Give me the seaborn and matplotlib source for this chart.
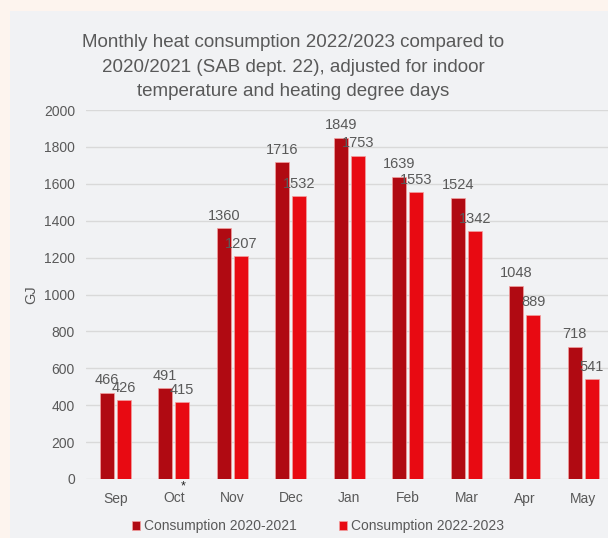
import matplotlib
matplotlib.use("Agg")
import matplotlib.pyplot as plt
from matplotlib.patches import Rectangle
import seaborn as sns
import pandas as pd

months = ["Sep", "Oct", "Nov", "Dec", "Jan", "Feb", "Mar", "Apr", "May"]
series_names = ["Consumption 2020-2021", "Consumption 2022-2023"]
cons_2020_2021 = [466, 491, 1360, 1716, 1849, 1639, 1524, 1048, 718]
cons_2022_2023 = [426, 415, 1207, 1532, 1753, 1553, 1342, 889, 541]
y_ticks = [0, 200, 400, 600, 800, 1000, 1200, 1400, 1600, 1800, 2000]
title = ("Monthly heat consumption 2022/2023 compared to\n"
         "2020/2021 (SAB dept. 22), adjusted for indoor\n"
         "temperature and heating degree days")

df = pd.DataFrame({
    "Month": months * 2,
    "Series": [series_names[0]] * len(months) + [series_names[1]] * len(months),
    "GJ": cons_2020_2021 + cons_2022_2023,
})

sns.set_theme(style="white")
plt.rcParams["font.family"] = ["Liberation Sans", "DejaVu Sans"]
TXT = "#595959"

fig = plt.figure(figsize=(6.08, 5.38), dpi=100)
fig.patch.set_facecolor("#fdf4ee")
fig.patches.append(Rectangle((10 / 608, 0), 1 - 10 / 608, (538 - 11) / 538,
                             transform=fig.transFigure, facecolor="#f1f2f4",
                             edgecolor="none", zorder=-10))

ax = fig.add_axes([86 / 608, (538 - 479) / 538, (608 - 86) / 608, 369 / 538])
ax.set_zorder(5)
ax.set_facecolor("none")

palette = {series_names[0]: "#b00a12", series_names[1]: "#e80a12"}
sns.barplot(data=df, x="Month", y="GJ", hue="Series", order=months,
            hue_order=series_names, palette=palette, width=0.58, gap=0.17,
            edgecolor="#f3a0a0", linewidth=0.5, saturation=1, ax=ax,
            errorbar=None, zorder=3)

for cont in ax.containers:
    ax.bar_label(cont, padding=4, fontsize=10.5, color=TXT)

ax.set_ylim(0, 2000)
ax.set_xlim(-0.5, 8.42)
ax.set_yticks(y_ticks)
ax.set_yticklabels([str(v) for v in y_ticks])
ax.yaxis.grid(True, color="#d9d9d9", linewidth=1, zorder=0)
ax.set_axisbelow(True)
for s in ax.spines.values():
    s.set_visible(False)
ax.tick_params(axis="both", length=0, labelsize=10, labelcolor=TXT)
ax.tick_params(axis="y", pad=8)
ax.tick_params(axis="x", pad=9)
ax.set_xlabel("")
ax.set_ylabel("GJ", fontsize=10.5, color=TXT, labelpad=4)

# asterisk under October 2022-2023 bar
ax.annotate("*", xy=(1 + 0.16, 0), xytext=(0, -1), textcoords="offset points",
            ha="center", va="top", fontsize=9, color="#222222")

fig.text(293 / 608, 1 - 67 / 538, title, ha="center", va="center",
         fontsize=13.5, color=TXT, linespacing=1.55)

handles, labels = ax.get_legend_handles_labels()
ax.get_legend().remove()
fig.legend(handles, labels, loc="center", bbox_to_anchor=(318 / 608, 1 - 526 / 538),
           ncol=2, frameon=False, fontsize=10, labelcolor=TXT,
           handlelength=0.6, handleheight=0.6, handletextpad=0.3,
           columnspacing=3.0)

fig.savefig("out.png", dpi=100, facecolor=fig.get_facecolor())
